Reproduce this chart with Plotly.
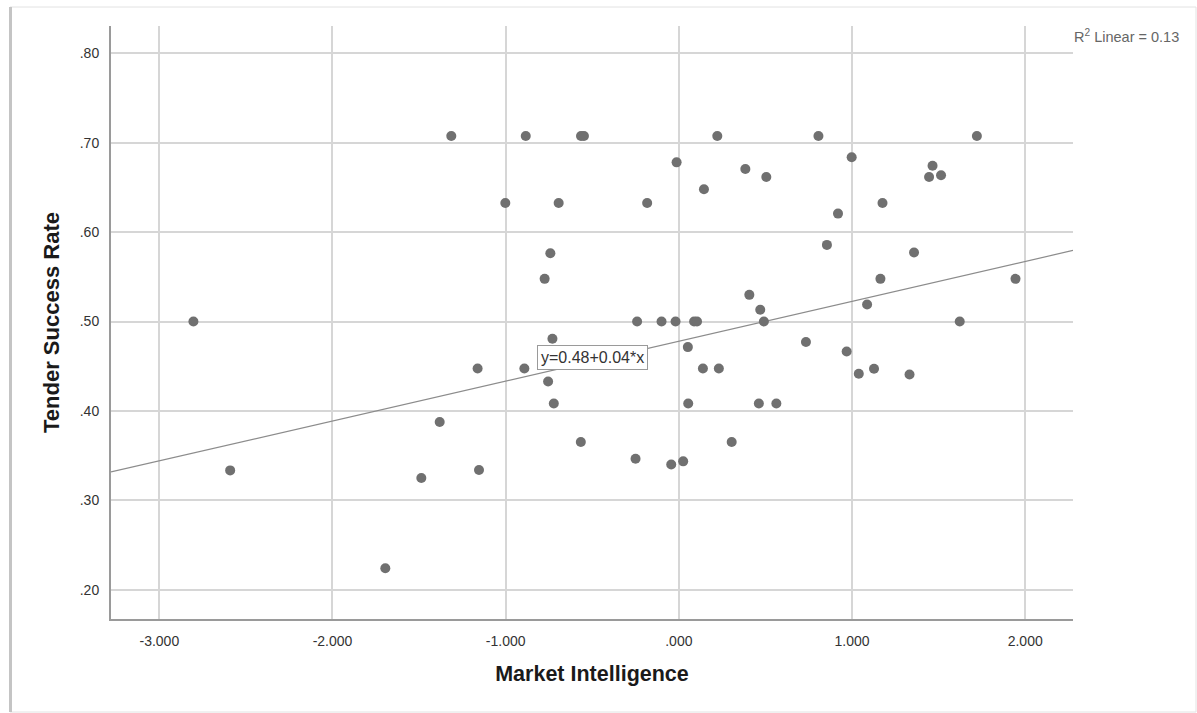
import numpy as np
import plotly.graph_objects as go

# Standardised market intelligence score vs. tender success rate
market_intelligence = [
    -2.803, -2.591, -1.695, -1.487, -1.381, -1.314, -1.162, -1.154, -1.002, -0.892,
    -0.884, -0.775, -0.742, -0.730, -0.755, -0.722, -0.694, -0.566, -0.565, -0.548,
    -0.241, -0.250, -0.183, -0.100, -0.044, -0.013, -0.019, 0.025, 0.052, 0.054,
    0.088, 0.105, 0.145, 0.139, 0.222, 0.231, 0.305, 0.384, 0.407, 0.470,
    0.462, 0.491, 0.505, 0.563, 0.734, 0.806, 0.855, 0.919, 0.969, 0.998,
    1.039, 1.087, 1.127, 1.164, 1.176, 1.332, 1.358, 1.445, 1.465, 1.514,
    1.622, 1.721, 1.944,
]
tender_success_rate = [
    0.500, 0.3335, 0.224, 0.325, 0.3876, 0.7075, 0.4475, 0.334, 0.6326, 0.4475,
    0.7075, 0.5477, 0.5764, 0.4807, 0.433, 0.4084, 0.6326, 0.3653, 0.7075, 0.7075,
    0.500, 0.3466, 0.6326, 0.500, 0.340, 0.678, 0.500, 0.3436, 0.4714, 0.4084,
    0.500, 0.500, 0.648, 0.4475, 0.7075, 0.4475, 0.3653, 0.6706, 0.5298, 0.5131,
    0.4084, 0.500, 0.6617, 0.4084, 0.477, 0.7075, 0.5857, 0.6207, 0.4665, 0.6837,
    0.4416, 0.519, 0.4471, 0.5477, 0.6326, 0.4408, 0.5771, 0.6617, 0.6743, 0.6636,
    0.500, 0.7075, 0.5477,
]

# Fitted linear model and its R squared
fit_intercept = 0.478
fit_slope = 0.0446
r_squared = 0.13

x_ticks = [-3, -2, -1, 0, 1, 2]
x_tick_labels = ["-3.000", "-2.000", "-1.000", ".000", "1.000", "2.000"]
y_ticks = [0.2, 0.3, 0.4, 0.5, 0.6, 0.7, 0.8]
y_tick_labels = [".20", ".30", ".40", ".50", ".60", ".70", ".80"]

x_range = [-3.279, 2.276]
y_range = [0.1673, 0.8305]

W, H = 1197, 713
M_L, M_R, M_T, M_B = 111, 124, 26, 94
plot_w = W - M_L - M_R
plot_h = H - M_T - M_B


def px_to_paper_x(px):
    return (px - M_L) / plot_w


def px_to_paper_y(py):
    return (H - M_B - py) / plot_h


FONT = "Arial, Liberation Sans, sans-serif"

fig = go.Figure()

line_x = np.array(x_range)
line_y = fit_intercept + fit_slope * line_x
fig.add_trace(go.Scatter(
    x=line_x, y=line_y, mode="lines",
    line=dict(color="#8c8c8c", width=1.2),
    hoverinfo="skip", showlegend=False,
))

fig.add_trace(go.Scatter(
    x=market_intelligence, y=tender_success_rate, mode="markers",
    marker=dict(size=10, color="#707070", line=dict(width=0)),
    showlegend=False,
))

# Equation label for the fitted line
eq_text = f"y={fit_intercept:.2f}+{fit_slope:.2f}*x"
fig.add_annotation(
    x=-0.499, y=0.46, xref="x", yref="y", text=eq_text, showarrow=False,
    font=dict(family=FONT, size=16, color="#333333"),
    bgcolor="white", bordercolor="#9a9a9a", borderwidth=1, borderpad=3,
)

fig.add_annotation(
    x=px_to_paper_x(1072), y=px_to_paper_y(36), xref="paper", yref="paper",
    xanchor="left", yanchor="middle",
    text=f"R<sup>2</sup> Linear = {r_squared:.2f}", showarrow=False,
    font=dict(family=FONT, size=14.5, color="#666666"),
)

# Outer frame around the chart
fig.add_shape(
    type="rect", xref="paper", yref="paper", layer="below",
    x0=px_to_paper_x(10), x1=px_to_paper_x(1196),
    y0=px_to_paper_y(712), y1=px_to_paper_y(7),
    line=dict(color="#e2e2e2", width=1),
)
fig.add_shape(
    type="line", xref="paper", yref="paper", layer="below",
    x0=px_to_paper_x(10.5), x1=px_to_paper_x(10.5),
    y0=px_to_paper_y(712), y1=px_to_paper_y(7),
    line=dict(color="#c4c4c4", width=3),
)

fig.update_layout(
    width=W, height=H,
    margin=dict(l=M_L, r=M_R, t=M_T, b=M_B, pad=0),
    paper_bgcolor="white", plot_bgcolor="white",
    font=dict(family=FONT, size=14, color="#333333"),
    xaxis=dict(
        range=x_range, tickvals=x_ticks, ticktext=x_tick_labels,
        showgrid=True, gridcolor="#d6d6d6", gridwidth=1.5,
        zeroline=False, showline=True, linecolor="#9a9a9a", linewidth=2,
        ticks="", ticklabelstandoff=8,
        tickfont=dict(family=FONT, size=14, color="#333333"),
        title=dict(text="<b>Market Intelligence</b>", standoff=18,
                   font=dict(family=FONT, size=21.5, color="#1a1a1a")),
    ),
    yaxis=dict(
        range=y_range, tickvals=y_ticks, ticktext=y_tick_labels,
        showgrid=True, gridcolor="#d6d6d6", gridwidth=1.5,
        zeroline=False, showline=True, linecolor="#9a9a9a", linewidth=2,
        ticks="", ticklabelstandoff=7,
        tickfont=dict(family=FONT, size=14, color="#333333"),
        title=dict(text="<b>Tender Success Rate</b>", standoff=14,
                   font=dict(family=FONT, size=22, color="#1a1a1a")),
    ),
)

fig.write_html("out.html")
